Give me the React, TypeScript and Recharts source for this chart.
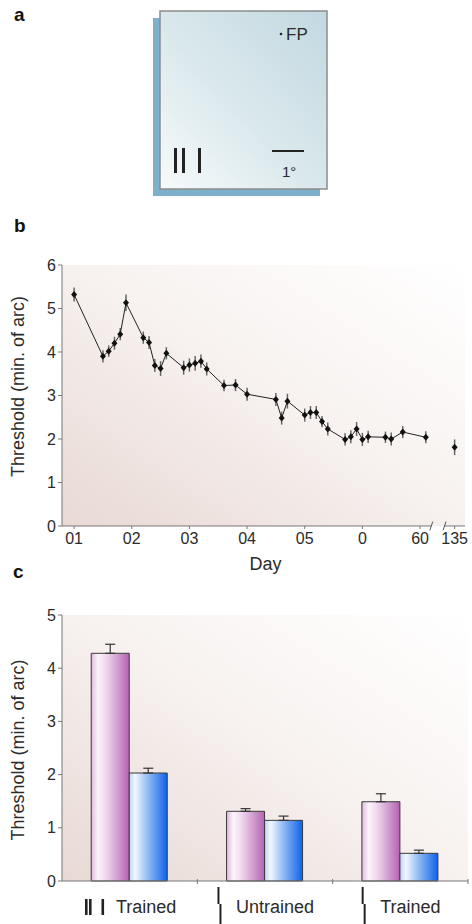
import React from "react"
import {
  ScatterChart,
  Scatter,
  BarChart,
  Bar,
  XAxis,
  YAxis,
  CartesianGrid,
  ErrorBar,
  ReferenceLine,
} from "recharts"

const FONT = '"Liberation Sans", Arial, Helvetica, sans-serif'
const INK = "#2b2b2b"
const AXIS = "#777"

// b: threshold over the training days
const trainingDays = [
  10, 15, 16, 17, 18, 19, 22, 23, 24, 25, 26, 29, 30, 31, 32, 33, 36, 38, 40, 45, 46, 47, 50, 51, 52, 53,
  54, 57, 58, 59, 60, 61, 64, 65, 67, 71,
]
const thresholds = [
  5.32, 3.9, 4.02, 4.2, 4.41, 5.13, 4.33, 4.22, 3.69, 3.62, 3.97, 3.64, 3.7, 3.74, 3.79, 3.61, 3.23, 3.24,
  3.03, 2.91, 2.48, 2.87, 2.55, 2.61, 2.61, 2.4, 2.23, 1.99, 2.05, 2.23, 1.99, 2.05, 2.04, 2.0, 2.16, 2.04,
]
const thresholdSem = [
  0.16, 0.14, 0.13, 0.15, 0.14, 0.19, 0.14, 0.15, 0.15, 0.17, 0.14, 0.16, 0.15, 0.17, 0.15, 0.15, 0.13, 0.14,
  0.15, 0.15, 0.15, 0.17, 0.15, 0.15, 0.15, 0.13, 0.15, 0.14, 0.15, 0.16, 0.15, 0.14, 0.13, 0.15, 0.14, 0.14,
]
const followUpDay = 135
const followUpThreshold = 1.81
const followUpSem = 0.18
const dayTicks = [10, 20, 30, 40, 50, 60, 70]
const dayTickLabels = ["01", "02", "03", "04", "05", "0", "60"]

// c: trained vs untrained stimulus, two eyes/conditions
const conditions = ["Trained", "Untrained", "Trained"]
const conditionIcons = ["bars", "curve", "curve"]
const pinkThreshold = [4.28, 1.31, 1.49]
const pinkSem = [0.17, 0.05, 0.15]
const blueThreshold = [2.03, 1.14, 0.52]
const blueSem = [0.09, 0.08, 0.06]

// broken x axis: day 135 is drawn just after the break
const BREAK_SLOT = 76
const X_DOMAIN: [number, number] = [7.9, 77.8]

const mainPoints = trainingDays.map((d, i) => ({ x: d, y: thresholds[i], sem: thresholdSem[i] }))
const followUpPoints = [{ x: BREAK_SLOT, y: followUpThreshold, sem: followUpSem }]
const xTicks = [...dayTicks, BREAK_SLOT]
const xTickLabels = [...dayTickLabels, String(followUpDay)]

const barRows = conditions.map((c, i) => ({
  id: `g${i}`,
  condition: c,
  pink: pinkThreshold[i],
  pinkErr: [0, pinkSem[i]],
  blue: blueThreshold[i],
  blueErr: [0, blueSem[i]],
}))

const C_W = 472
const C_LEFT = 62
const C_RIGHT = 4
const BAND = (C_W - C_LEFT - C_RIGHT) / conditions.length

let ctx: CanvasRenderingContext2D | null = null
function textWidth(s: string, size: number) {
  if (!ctx) ctx = document.createElement("canvas").getContext("2d")
  if (!ctx) return s.length * size * 0.5
  ctx.font = `${size}px ${FONT}`
  return ctx.measureText(s).width
}

function Diamond(p: any) {
  const { cx, cy } = p
  if (cx == null || cy == null) return null
  return <path d={`M${cx},${cy - 3.5}L${cx + 3},${cy}L${cx},${cy + 3.5}L${cx - 3},${cy}Z`} fill="#111" />
}

function yTitle(shift: number) {
  return (p: any) => {
    const vb = p.viewBox
    const x = vb.x + 18
    const y = vb.y + vb.height / 2 + shift
    return (
      <text
        x={x}
        y={y}
        transform={`rotate(-90, ${x}, ${y})`}
        textAnchor="middle"
        dominantBaseline="central"
        fill={INK}
        fontSize={18}
        fontFamily={FONT}
      >
        Threshold (min. of arc)
      </text>
    )
  }
}

function dayTitle(p: any) {
  const vb = p.viewBox
  return (
    <text x={vb.x + vb.width / 2 + 2} y={vb.y + 44} textAnchor="middle" fill={INK} fontSize={18} fontFamily={FONT}>
      Day
    </text>
  )
}

function ConditionTick(props: any) {
  const { x, y, index } = props
  const label = conditions[index]
  const icon = conditionIcons[index]
  const tw = textWidth(label, 18)
  const iconW = icon === "bars" ? 19 : 3
  const gap = icon === "bars" ? 12 : 15
  const left = x - (iconW + gap + tw) / 2 + 1
  const edge = x + BAND / 2
  return (
    <g>
      <line x1={edge} x2={edge} y1={y - 2} y2={y + 3} stroke={AXIS} />
      {icon === "bars" ? (
        <g fill="#222">
          <rect x={left} y={y + 18} width={2.6} height={16} />
          <rect x={left + 4} y={y + 18} width={2.6} height={16} />
          <rect x={left + 16.5} y={y + 18} width={2.6} height={16} />
        </g>
      ) : (
        <path
          d={`M${left + 0.5},${y + 6}L${left + 0.5},${y + 23}M${left + 2.5},${y + 23}L${left + 2.5},${y + 44}`}
          stroke="#222"
          strokeWidth={2}
          fill="none"
        />
      )}
      <text x={left + iconW + gap} y={y + 32} fill={INK} fontSize={18} fontFamily={FONT}>
        {label}
      </text>
    </g>
  )
}

function PanelA() {
  return (
    <svg width={472} height={924} style={{ position: "absolute", left: 0, top: 0 }}>
      <defs>
        <linearGradient id="paneA" x1="1" y1="0" x2="0" y2="1">
          <stop offset="0%" stopColor="#c2d8e0" />
          <stop offset="55%" stopColor="#dbe9ed" />
          <stop offset="100%" stopColor="#f6fafb" />
        </linearGradient>
      </defs>
      <g fontFamily={FONT} fontWeight="bold" fontSize={19} fill="#111">
        <text x={14} y={21}>a</text>
        <text x={14} y={232}>b</text>
        <text x={13} y={578}>c</text>
      </g>
      <rect x={153} y={18} width={167} height={178} fill="#7db0cb" />
      <rect x={160} y={11} width={167} height={178} fill="url(#paneA)" stroke="#8c8c8c" strokeWidth={1.5} />
      <circle cx={281} cy={34} r={1.3} fill="#222" />
      <text x={286} y={40} fontFamily={FONT} fontSize={17} fill={INK}>
        FP
      </text>
      <g fill="#222">
        <rect x={174} y={148} width={3} height={25} />
        <rect x={182} y={148} width={3} height={25} />
        <rect x={198} y={148} width={3} height={25} />
      </g>
      <line x1={272} x2={304} y1={151} y2={151} stroke="#222" strokeWidth={2} />
      <text x={282} y={177} fontFamily={FONT} fontSize={15} fill={INK}>
        1°
      </text>
    </svg>
  )
}

function PanelB() {
  return (
    <div style={{ position: "absolute", left: 0, top: 240 }}>
      <ScatterChart width={472} height={340} margin={{ top: 25, right: 7, bottom: 0, left: 0 }}>
        <defs>
          <linearGradient id="bgB" x1="0" y1="1" x2="1" y2="0">
            <stop offset="0%" stopColor="#e8d9d4" />
            <stop offset="55%" stopColor="#f8f3f1" />
            <stop offset="100%" stopColor="#ffffff" />
          </linearGradient>
        </defs>
        <CartesianGrid horizontal={false} vertical={false} fill="url(#bgB)" stroke="none" />
        <XAxis
          type="number"
          dataKey="x"
          domain={X_DOMAIN}
          allowDataOverflow
          ticks={xTicks}
          interval={0}
          tickFormatter={(v: number) => xTickLabels[xTicks.indexOf(v)] ?? ""}
          height={54}
          axisLine={false}
          tickLine={{ stroke: AXIS }}
          tickSize={3}
          tickMargin={4}
          tick={{ fill: INK, fontSize: 16, fontFamily: FONT }}
          label={{ content: dayTitle }}
        />
        <YAxis
          type="number"
          dataKey="y"
          domain={[0, 6]}
          ticks={[0, 1, 2, 3, 4, 5, 6]}
          width={62}
          axisLine={{ stroke: AXIS }}
          tickLine={{ stroke: AXIS }}
          tickSize={4}
          tickMargin={2}
          tick={{ fill: INK, fontSize: 16, fontFamily: FONT }}
          label={{ content: yTitle(-9) }}
        />
        <ReferenceLine segment={[{ x: X_DOMAIN[0], y: 0 }, { x: 71.9, y: 0 }]} stroke={AXIS} ifOverflow="visible" />
        <ReferenceLine segment={[{ x: 74.3, y: 0 }, { x: X_DOMAIN[1], y: 0 }]} stroke={AXIS} ifOverflow="visible" />
        <ReferenceLine segment={[{ x: 71.7, y: -0.1 }, { x: 72.2, y: 0.1 }]} stroke="#555" ifOverflow="visible" />
        <ReferenceLine segment={[{ x: 74.0, y: -0.1 }, { x: 74.5, y: 0.1 }]} stroke="#555" ifOverflow="visible" />
        <Scatter
          data={mainPoints}
          line={{ stroke: "#222", strokeWidth: 1 }}
          shape={Diamond}
          isAnimationActive={false}
        >
          <ErrorBar dataKey="sem" direction="y" width={0} stroke="#666" strokeWidth={1.5} />
        </Scatter>
        <Scatter data={followUpPoints} shape={Diamond} isAnimationActive={false}>
          <ErrorBar dataKey="sem" direction="y" width={0} stroke="#666" strokeWidth={1.5} />
        </Scatter>
      </ScatterChart>
    </div>
  )
}

function PanelC() {
  return (
    <div style={{ position: "absolute", left: 0, top: 590 }}>
      <BarChart
        width={C_W}
        height={334}
        data={barRows}
        margin={{ top: 25, right: C_RIGHT, bottom: 0, left: 0 }}
        barCategoryGap="21.6%"
        barGap={0}
      >
        <defs>
          <linearGradient id="bgC" x1="0" y1="1" x2="1" y2="0">
            <stop offset="0%" stopColor="#e8d9d4" />
            <stop offset="55%" stopColor="#f8f3f1" />
            <stop offset="100%" stopColor="#ffffff" />
          </linearGradient>
          <linearGradient id="pinkBar" x1="0" y1="0" x2="1" y2="0">
            <stop offset="0%" stopColor="#e0bade" />
            <stop offset="18%" stopColor="#fcf4fb" />
            <stop offset="40%" stopColor="#efd6ec" />
            <stop offset="100%" stopColor="#b263b1" />
          </linearGradient>
          <linearGradient id="blueBar" x1="0" y1="0" x2="1" y2="0">
            <stop offset="0%" stopColor="#bcd4f4" />
            <stop offset="16%" stopColor="#f1f7ff" />
            <stop offset="45%" stopColor="#9cc2f5" />
            <stop offset="100%" stopColor="#0f62ea" />
          </linearGradient>
        </defs>
        <CartesianGrid horizontal={false} vertical={false} fill="url(#bgC)" stroke="none" />
        <XAxis
          dataKey="id"
          height={43}
          axisLine={{ stroke: AXIS }}
          tickLine={false}
          tickSize={0}
          tickMargin={0}
          interval={0}
          tick={<ConditionTick />}
        />
        <YAxis
          domain={[0, 5]}
          ticks={[0, 1, 2, 3, 4, 5]}
          width={C_LEFT}
          axisLine={{ stroke: AXIS }}
          tickLine={{ stroke: AXIS }}
          tickSize={4}
          tickMargin={2}
          tick={{ fill: INK, fontSize: 16, fontFamily: FONT }}
          label={{ content: yTitle(2) }}
        />
        <Bar dataKey="pink" fill="url(#pinkBar)" stroke="#3a3a3a" strokeWidth={1} isAnimationActive={false}>
          <ErrorBar dataKey="pinkErr" direction="y" width={5} stroke="#333" strokeWidth={1.2} />
        </Bar>
        <Bar dataKey="blue" fill="url(#blueBar)" stroke="#3a3a3a" strokeWidth={1} isAnimationActive={false}>
          <ErrorBar dataKey="blueErr" direction="y" width={5} stroke="#333" strokeWidth={1.2} />
        </Bar>
      </BarChart>
    </div>
  )
}

export default function App() {
  return (
    <div
      style={{
        position: "absolute",
        left: 0,
        top: 0,
        width: 472,
        height: 924,
        background: "#fff",
        fontFamily: FONT,
        overflow: "hidden",
      }}
    >
      <PanelA />
      <PanelB />
      <PanelC />
    </div>
  )
}
